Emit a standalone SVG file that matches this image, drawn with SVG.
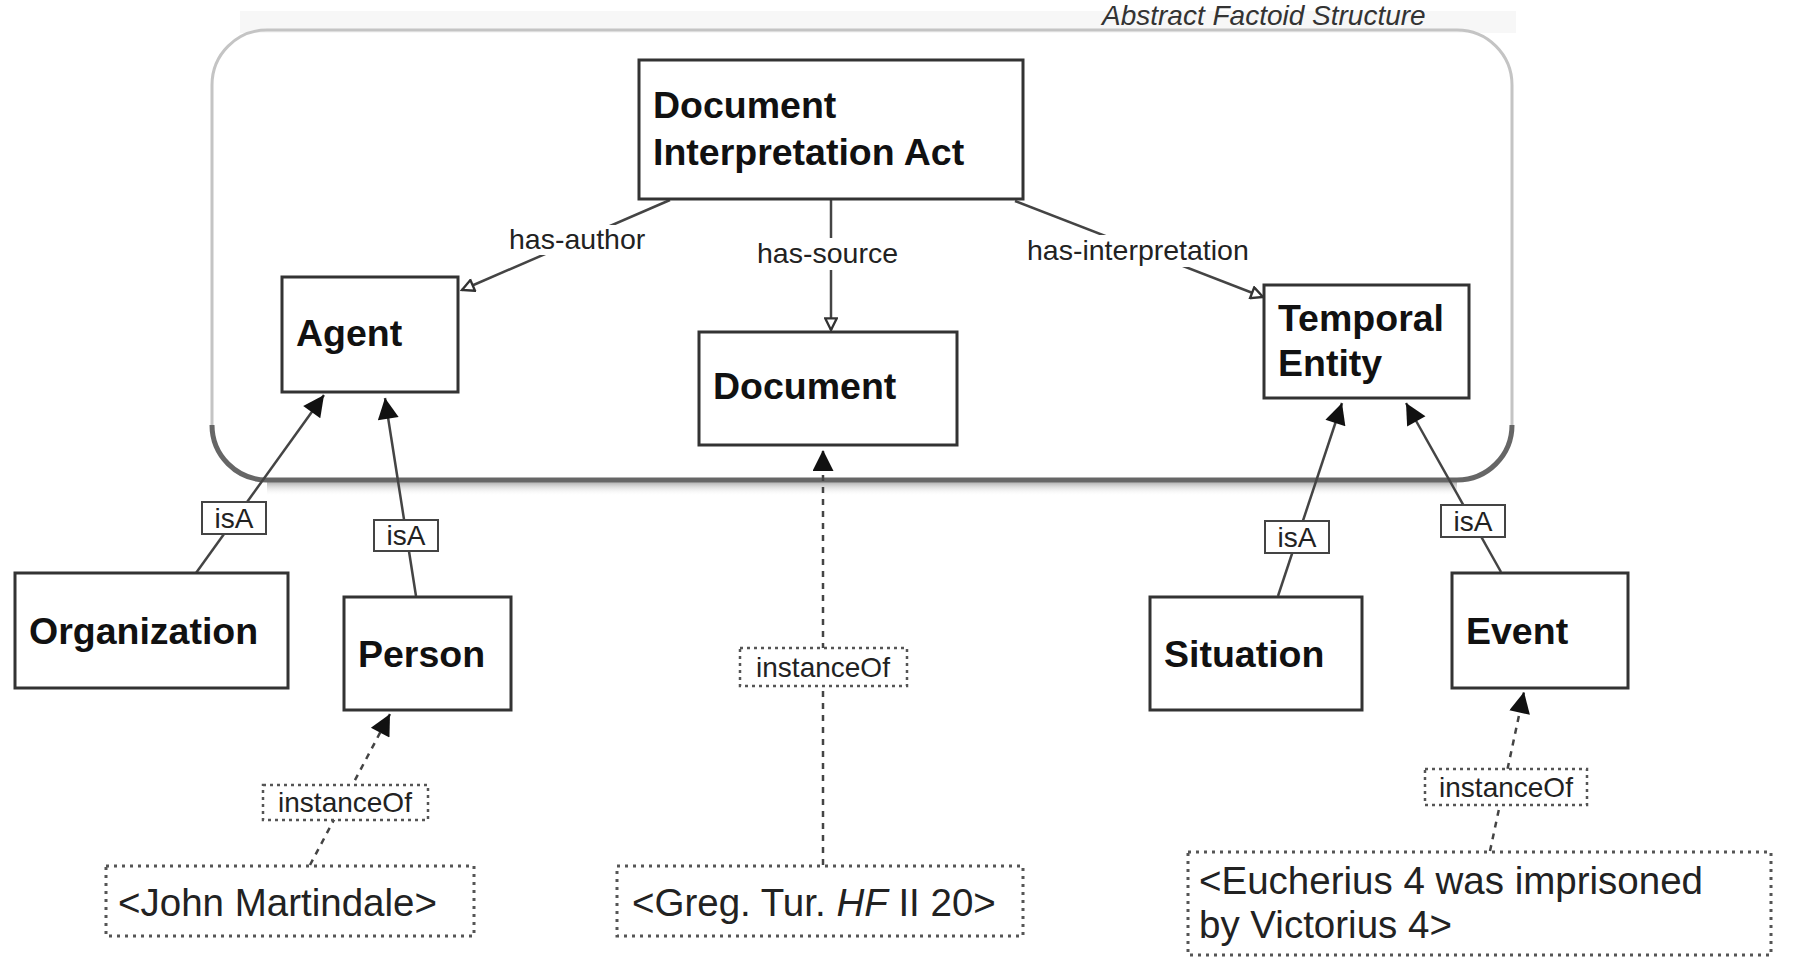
<svg xmlns="http://www.w3.org/2000/svg" width="1803" height="969" viewBox="0 0 1803 969">
<defs>
<style>
.node{fill:#fff;stroke:#333;stroke-width:3}
.inst{fill:#fff;stroke:#555;stroke-width:3;stroke-dasharray:3 5}
.lbl{fill:#fff;stroke:#444;stroke-width:2}
.lbld{fill:#fff;stroke:#555;stroke-width:2.5;stroke-dasharray:3 4}
.t{font-family:"Liberation Sans",Arial,sans-serif;font-weight:bold;font-size:37.5px;fill:#111}
.ti{font-family:"Liberation Sans",Arial,sans-serif;font-size:38.5px;fill:#222}
.el{font-family:"Liberation Sans",Arial,sans-serif;font-size:28.5px;fill:#222}
.sl{font-family:"Liberation Sans",Arial,sans-serif;font-size:28px;fill:#222;text-anchor:middle}
.solid{fill:none;stroke:#444;stroke-width:2.5}
.dash{fill:none;stroke:#444;stroke-width:2.5;stroke-dasharray:6 6}
</style>
<marker id="fa" viewBox="0 0 10 10" refX="10" refY="5" markerWidth="25" markerHeight="21" markerUnits="userSpaceOnUse" orient="auto"><path d="M0,0 L10,5 L0,10 z" fill="#111"/></marker>
<marker id="ha" viewBox="0 0 12 12" refX="11" refY="6" markerWidth="16" markerHeight="14" markerUnits="userSpaceOnUse" orient="auto"><path d="M1,1 L11,6 L1,11 z" fill="#fff" stroke="#333" stroke-width="2"/></marker>
<linearGradient id="sh" x1="0" y1="0" x2="0" y2="1"><stop offset="0" stop-color="#777"/><stop offset="1" stop-color="#fff" stop-opacity="0"/></linearGradient>
</defs>

<g id="container">
<rect x="240" y="11" width="1276" height="22" fill="#f7f7f7"/>
<rect x="212" y="30" width="1300" height="450" rx="55" fill="none" stroke="#c4c4c4" stroke-width="3"/>
<path d="M212,425 A55,55 0 0 0 267,480 L1457,480 A55,55 0 0 0 1512,425" fill="none" stroke="#666" stroke-width="5"/>
<rect x="267" y="482" width="1190" height="14" fill="url(#sh)" opacity="0.6"/>
<text x="1102" y="25" font-family="Liberation Sans,Arial,sans-serif" font-style="italic" font-size="28" fill="#333">Abstract Factoid Structure</text>
</g>

<g id="connectors">
<line class="solid" x1="670" y1="200" x2="462" y2="290" marker-end="url(#ha)"/>
<line class="solid" x1="831" y1="200" x2="831" y2="330" marker-end="url(#ha)"/>
<line class="solid" x1="1015" y1="201" x2="1263" y2="297" marker-end="url(#ha)"/>
<line class="solid" x1="196" y1="573" x2="324" y2="395" marker-end="url(#fa)"/>
<line class="solid" x1="416" y1="596" x2="385" y2="398" marker-end="url(#fa)"/>
<line class="solid" x1="1278" y1="596" x2="1342" y2="403" marker-end="url(#fa)"/>
<line class="solid" x1="1501" y1="572" x2="1406" y2="403" marker-end="url(#fa)"/>
<line class="dash" x1="310" y1="865" x2="390" y2="714" marker-end="url(#fa)"/>
<line class="dash" x1="823" y1="865" x2="823" y2="450" marker-end="url(#fa)"/>
<line class="dash" x1="1490" y1="851" x2="1524" y2="692" marker-end="url(#fa)"/>
<rect x="505" y="225" width="152" height="30" fill="#fff"/>
<text class="el" x="509" y="249">has-author</text>
<rect x="755" y="238" width="152" height="32" fill="#fff"/>
<text class="el" x="757" y="263">has-source</text>
<rect x="1025" y="235" width="234" height="32" fill="#fff"/>
<text class="el" x="1027" y="260">has-interpretation</text>
</g>

<g id="lbl-isa-org"><rect class="lbl" x="202" y="502" width="64" height="32"/><text class="sl" x="234" y="528">isA</text></g>
<g id="lbl-isa-person"><rect class="lbl" x="374" y="520" width="64" height="31"/><text class="sl" x="406" y="545">isA</text></g>
<g id="lbl-isa-situation"><rect class="lbl" x="1265" y="521" width="64" height="32"/><text class="sl" x="1297" y="547">isA</text></g>
<g id="lbl-isa-event"><rect class="lbl" x="1441" y="505" width="64" height="32"/><text class="sl" x="1473" y="531">isA</text></g>
<g id="lbl-inst-person"><rect class="lbld" x="263" y="785" width="165" height="35"/><text class="sl" x="345" y="812">instanceOf</text></g>
<g id="lbl-inst-doc"><rect class="lbld" x="740" y="648" width="167" height="38"/><text class="sl" x="823" y="677">instanceOf</text></g>
<g id="lbl-inst-event"><rect class="lbld" x="1425" y="769" width="162" height="36"/><text class="sl" x="1506" y="797">instanceOf</text></g>

<g id="n-dia"><rect class="node" x="639" y="60" width="384" height="139"/><text class="t" x="653" y="118">Document</text><text class="t" x="653" y="165">Interpretation Act</text></g>
<g id="n-agent"><rect class="node" x="282" y="277" width="176" height="115"/><text class="t" x="296" y="346">Agent</text></g>
<g id="n-document"><rect class="node" x="699" y="332" width="258" height="113"/><text class="t" x="713" y="399">Document</text></g>
<g id="n-temporal"><rect class="node" x="1264" y="285" width="205" height="113"/><text class="t" x="1278" y="331">Temporal</text><text class="t" x="1278" y="376">Entity</text></g>
<g id="n-org"><rect class="node" x="15" y="573" width="273" height="115"/><text class="t" x="29" y="644">Organization</text></g>
<g id="n-person"><rect class="node" x="344" y="597" width="167" height="113"/><text class="t" x="358" y="667">Person</text></g>
<g id="n-situation"><rect class="node" x="1150" y="597" width="212" height="113"/><text class="t" x="1164" y="667">Situation</text></g>
<g id="n-event"><rect class="node" x="1452" y="573" width="176" height="115"/><text class="t" x="1466" y="644">Event</text></g>

<g id="i-john"><rect class="inst" x="106" y="866" width="368" height="70"/><text class="ti" x="118" y="916">&lt;John Martindale&gt;</text></g>
<g id="i-greg"><rect class="inst" x="617" y="866" width="406" height="70"/><text class="ti" x="632" y="916">&lt;Greg. Tur. <tspan font-style="italic">HF</tspan> II 20&gt;</text></g>
<g id="i-euch"><rect class="inst" x="1188" y="852" width="583" height="103"/><text class="ti" x="1199" y="894">&lt;Eucherius 4 was imprisoned</text><text class="ti" x="1199" y="938">by Victorius 4&gt;</text></g>
</svg>
